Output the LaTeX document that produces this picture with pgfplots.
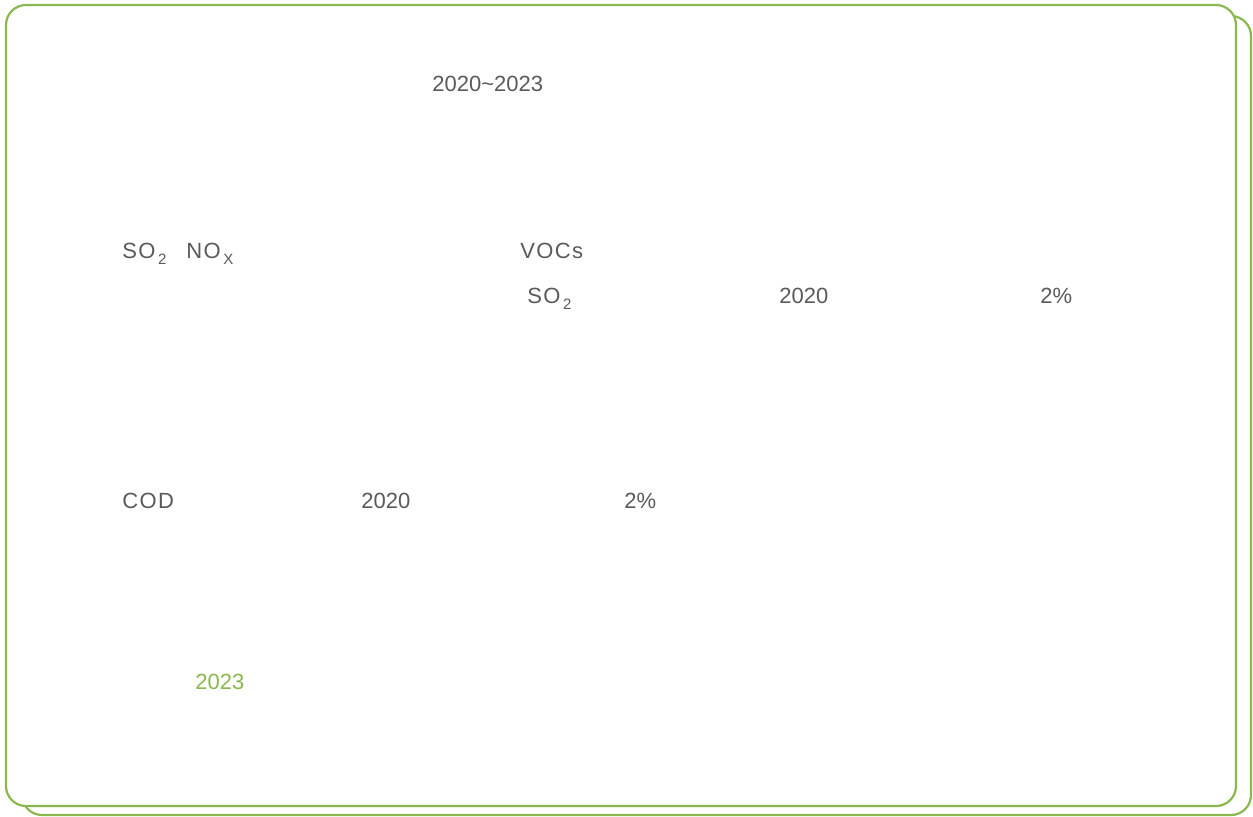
\documentclass[border=0pt]{standalone}
\usepackage{pgfplots}
\pgfplotsset{compat=1.18}
\usepackage{fontspec}
\setmainfont{Liberation Sans}
\newfontfamily\spaced[LetterSpace=6]{Liberation Sans}
\definecolor{frame}{HTML}{8AB84F}
\definecolor{txt}{HTML}{5A5A5A}
\newcommand{\sub}[1]{\hspace{0.12em}\raisebox{-0.28em}{\fontsize{7.5}{8}\selectfont #1}}
\begin{document}
\begin{tikzpicture}
\begin{axis}[
  scale only axis, width=626.5pt, height=408pt,
  xmin=0, xmax=1253, ymin=0, ymax=816, y dir=reverse,
  hide axis, clip=false,
]
\path (axis cs:0,0) rectangle (axis cs:1253,816);
\draw[frame, line width=1.1pt, rounded corners=10pt, fill=white] (axis cs:22,16) rectangle (axis cs:1251,815);
\draw[frame, line width=1.1pt, rounded corners=10pt, fill=white] (axis cs:6,5) rectangle (axis cs:1236,806);
\begin{scope}[every node/.style={anchor=base west, inner sep=0pt, text=txt, font=\fontsize{11}{13}\selectfont}]
\node at (axis cs:432,91) {2020\char"007E 2023};
\node at (axis cs:122,258) {\spaced SO\sub{2}};
\node at (axis cs:186,258) {\spaced NO\sub{X}};
\node at (axis cs:520,258) {\spaced VOCs};
\node at (axis cs:527,303) {\spaced SO\sub{2}};
\node at (axis cs:779,303) {2020};
\node at (axis cs:1040,303) {2\%};
\node at (axis cs:122,508) {\spaced COD};
\node at (axis cs:361,508) {2020};
\node at (axis cs:624,508) {2\%};
\node[text=frame] at (axis cs:195,689) {2023};
\end{scope}
\end{axis}
\end{tikzpicture}
\end{document}
